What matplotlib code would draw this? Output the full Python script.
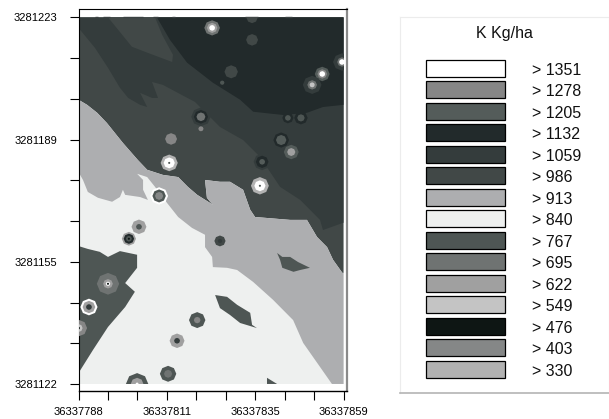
"""K Kg/ha map with class legend."""
import matplotlib
matplotlib.use("Agg")
import matplotlib.pyplot as plt
from matplotlib.patches import RegularPolygon, Rectangle

plt.rcParams['font.family'] = ['Liberation Sans', 'DejaVu Sans']

east0 = 36337788
north0 = 3281122
map_e = 71
map_n = 101

x_ticks = [0, 7.9, 15.8, 23.7, 31.6, 39.5, 47.3, 55.2, 63.1, 71]
x_labels = ['36337788', '', '', '36337811', '', '', '36337835', '', '', '36337859']
y_ticks = [0, 11.2, 22.4, 33.7, 44.9, 56.1, 67.3, 78.6, 89.8, 101]
y_labels = ['3281122', '', '', '3281155', '', '', '3281189', '', '', '3281223']

classes = ['> 1351', '> 1278', '> 1205', '> 1132', '> 1059', '> 986', '> 913', '> 840',
           '> 767', '> 695', '> 622', '> 549', '> 476', '> 403', '> 330']
colors = ['#ffffff', '#868686', '#545c5a', '#222a2b', '#343c3c', '#414847', '#adaeb0', '#eef0ef',
          '#4e5654', '#6f7372', '#a0a0a0', '#c4c4c4', '#0e1614', '#858787', '#b2b2b2']
class_color = {int(c[2:]): col for c, col in zip(classes, colors)}

# zone outlines, metres from the lower left map corner
edge986_e = [0, 2.3, 5.0, 7.6, 11.9, 15.9, 18.4, 22.6, 26.7, 29.3, 31.8, 35.2, 36.0, 34.4, 33.9, 37.9, 40.6,
             44.1, 46.0, 47.3, 56.7, 61.2, 63.9, 66.6, 68.2, 70.7, 71]
edge986_n = [78.3, 76.9, 74.7, 71.9, 66.4, 61.7, 59.0, 57.6, 57.0, 54.3, 52.1, 49.9, 49.3, 51.3, 56.2, 55.7, 55.7,
             53.5, 48.0, 46.0, 45.2, 45.2, 40.5, 37.7, 34.2, 30.6, 30.6]
edge840_e = [71, 67.9, 64.7, 60.2, 57.5, 52.1, 46.8, 42.5, 39.8, 36.0, 35.8, 33.9, 33.9, 30.4, 26.7, 23.7, 20.5,
             18.4, 15.7, 17.3, 17.3, 18.6, 16.5, 12.5, 11.9, 11.1, 9.0, 5.2, 2.5, 1.2, 0]
edge840_n = [0, 0, 4.7, 11.3, 17.6, 23.2, 28.1, 31.4, 32.0, 32.2, 35.0, 37.7, 41.1, 43.0, 46.0, 49.9, 54.3,
             57.0, 57.9, 56.2, 53.5, 50.7, 51.5, 52.1, 53.5, 51.5, 50.2, 51.3, 52.9, 56.2, 58.4]
edge1059_e = [0, 4.4, 7.9, 11.1, 13.3, 16.5, 18.4, 16.5, 19.7, 21.3, 19.7, 22.6, 27.7, 31.2, 37.9, 44.1, 48.6,
              54.0, 59.4, 64.7, 65.5, 70.9, 71]
edge1059_n = [98.1, 92.6, 87.1, 81.6, 78.8, 76.9, 76.3, 80.2, 78.8, 78.8, 83.2, 82.4, 79.6, 77.7, 70.8, 67.2, 62.6,
              54.3, 50.7, 45.2, 42.4, 44.4, 44.4]
edge1132_e = [21, 24.5, 29.1, 36, 43.3, 46.8, 54.8, 61.2, 65.5, 71]
edge1132_n = [101, 94.8, 88.5, 83.0, 78.3, 75.0, 74.1, 74.7, 76.3, 76.9]
patch986_e = [7.9, 20.5, 22.4, 25.3, 25.1, 18.6, 14.3, 10.6]
patch986_n = [101, 101, 96.2, 90.7, 88.7, 91.2, 92.9, 97.6]
left767_e = [0, 2.5, 5.7, 7.9, 11.1, 15.7, 15.7, 12.5, 15.1, 12.5, 7.9, 3.9, 0]
left767_n = [38.0, 37.2, 36.4, 35.0, 36.6, 35.6, 32.0, 27.8, 25.4, 21.2, 15.7, 9.4, 3.0]
east767_e = [53.2, 54.6, 56.7, 58.8, 62.0, 59.4, 57.6, 54.6, 54.0]
east767_n = [36.1, 35.0, 35.0, 33.6, 32.0, 31.4, 30.9, 32.0, 34.2]
mid767_e = [36.6, 39.8, 42.5, 46.0, 46.5, 47.8, 43.3, 40.6, 37.9]
mid767_n = [24.5, 24.0, 21.8, 19.6, 16.3, 15.4, 16.8, 19.0, 20.9]
low767_e = [50.5, 53.2, 50.5]
low767_n = [1.7, 0, 0]

# small dark cells sticking out over the top of the map
top_e0 = [4.4, 6.6, 11.9, 20.0, 25.1, 44.5, 55.4]
top_e1 = [5.2, 8.4, 17.3, 21.3, 25.9, 48.2, 57.2]

# spots: centre, then rings as (radius in metres, class)
spot_e = [35.8, 46.5, 46.5, 40.9, 38.5, 70.6, 65.3, 62.6, 56.1, 59.6, 32.8, 32.8, 24.8, 54.3, 57,
          24.3, 49.2, 48.6, 21.6, 16.2, 13.5, 37.9, 7.9, 2.8, 0, 31.8, 26.4, 24, 15.7]
spot_n = [98.1, 94.8, 100.9, 86.0, 83.0, 88.7, 85.4, 82.4, 73.3, 73.3, 73.6, 70.3, 67.5, 67.2, 63.9,
          60.9, 61.2, 54.6, 51.8, 43.3, 40.0, 39.4, 27.6, 21.2, 15.4, 17.6, 11.9, 2.8, 0]
spot_rings = [
    [(2.1, 695), (1.4, 622), (0.8, 1351)],
    [(1.6, 986)],
    [(1.5, 986)],
    [(1.8, 986)],
    [(0.6, 767)],
    [(2.4, 1059), (1.3, 695), (0.8, 1351)],
    [(2.0, 1205), (1.3, 1278), (0.8, 1351)],
    [(2.5, 1059), (1.3, 695), (0.7, 549)],
    [(1.5, 1132), (0.8, 767)],
    [(1.8, 1132), (1.0, 767)],
    [(2.6, 1059), (1.9, 1132), (1.2, 695)],
    [(0.7, 1278)],
    [(1.6, 1278)],
    [(2.1, 1132), (1.4, 1205)],
    [(2.0, 1205), (1.1, 622)],
    [(2.3, 330), (1.5, 1351), (0.3, 767)],
    [(2.3, 1059), (1.7, 1132), (0.8, 1205)],
    [(2.4, 330), (1.5, 1351), (0.3, 767)],
    [(2.4, 1351), (1.8, 767), (1.1, 403)],
    [(2.0, 622), (0.8, 767)],
    [(1.9, 622), (1.4, 1132), (0.8, 767), (0.3, 476)],
    [(1.5, 986), (0.6, 1059)],
    [(3.0, 695), (1.3, 622), (0.6, 1351), (0.3, 476)],
    [(2.3, 1351), (1.7, 622), (0.8, 1059)],
    [(2.3, 1278), (1.1, 549), (0.4, 476)],
    [(2.2, 767), (0.9, 1278)],
    [(2.0, 622), (0.8, 1059)],
    [(2.2, 767), (1.1, 695)],
    [(3.0, 767), (1.7, 622), (0.4, 1351)],
]

fig = plt.figure(figsize=(6.09, 4.19), dpi=100)
ax = fig.add_axes([78.5 / 609, 1 - 390.5 / 419, 268 / 609, 381.5 / 419])


def zone(xs, ys, level):
    ax.fill([east0 + x for x in xs], [north0 + y for y in ys], color=class_color[level], lw=0, zorder=2)


map_clip = Rectangle((east0, north0), map_e, map_n, transform=ax.transData)
base = Rectangle((east0, north0), map_e, map_n, fc=class_color[840], ec='none', zorder=1)
ax.add_patch(base)
zone(edge986_e + [map_e, 0], edge986_n + [map_n, map_n], 986)
zone(edge986_e + edge840_e, edge986_n + edge840_n, 913)
zone(edge1059_e + [map_e, 0], edge1059_n + [map_n, map_n], 1059)
zone(patch986_e, patch986_n, 986)
zone(edge1132_e + [map_e], edge1132_n + [map_n], 1132)
zone(left767_e, left767_n, 767)
zone(east767_e, east767_n, 767)
zone(mid767_e, mid767_n, 767)
zone(low767_e, low767_n, 767)
ax.hlines([north0 + map_n + 0.2] * len(top_e0), [east0 + e for e in top_e0], [east0 + e for e in top_e1],
          color='#3a4242', lw=1, zorder=2)

for e, n, rings in zip(spot_e, spot_n, spot_rings):
    for r, level in rings:
        p = RegularPolygon((east0 + e, north0 + n), 8, radius=r, fc=class_color[level], ec='none', zorder=3)
        ax.add_patch(p)
        p.set_clip_path(map_clip)

ax.set_xlim(east0, east0 + 71.8)
ax.set_ylim(north0 - 1.8, north0 + 103.3)
ax.set_xticks([east0 + t for t in x_ticks])
ax.set_xticklabels(x_labels, fontsize=8)
ax.set_yticks([north0 + t for t in y_ticks])
ax.set_yticklabels(y_labels, fontsize=8)
ax.tick_params(length=6.2, width=0.8)
ax.tick_params(axis='x', pad=6)
ax.tick_params(axis='y', pad=9)
ax.spines['right'].set_color('#8a8a8a')
ax.spines['right'].set_linewidth(1.6)
ax.spines['top'].set_linewidth(0.8)
ax.spines['left'].set_linewidth(0.8)
ax.spines['bottom'].set_linewidth(1.0)

# legend panel, laid out in picture pixels
leg = fig.add_axes([400 / 609, 1 - 393 / 419, 209 / 609, 376 / 419])
leg.set_xlim(400, 609)
leg.set_ylim(393, 17)
leg.set_xticks([])
leg.set_yticks([])
for side in ['top', 'left', 'right']:
    leg.spines[side].set_color('#ececec')
leg.spines['bottom'].set_color('#b4b4b4')
leg.spines['bottom'].set_linewidth(1.2)
rows = [68 + 21.5 * i for i in range(len(classes))]
leg.barh(rows, [79] * len(rows), height=17, left=426, color=colors, edgecolor='black', linewidth=0.9)
for y, label in zip(rows, classes):
    leg.text(532, y + 2, label, fontsize=11.5, va='center', ha='left', color='#111111')
leg.text(504, 33, 'K Kg/ha', fontsize=11.5, va='center', ha='center', color='#111111')

fig.savefig('out.png', dpi=100)
